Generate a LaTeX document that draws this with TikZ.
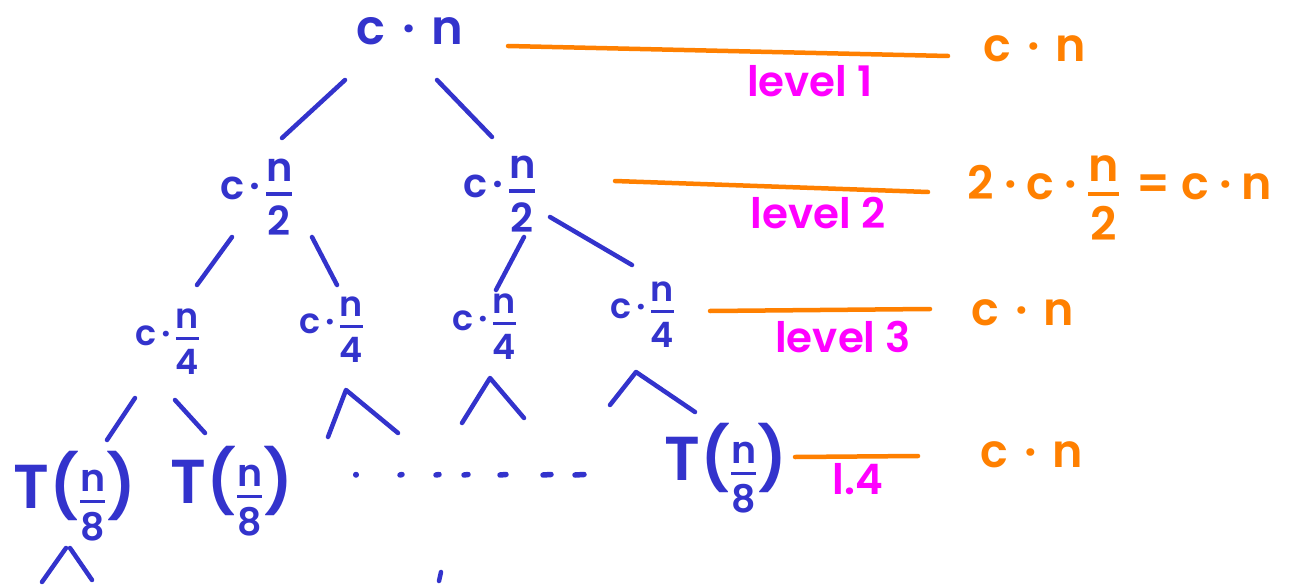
\documentclass[tikz,border=0pt]{standalone}
\usepackage{amsmath}
\usepackage{fontspec}
\setmainfont{Poppins}[BoldFont={Poppins SemiBold}]
\usetikzlibrary{calc}

\definecolor{inkblue}{RGB}{51,51,204}
\definecolor{inkorange}{RGB}{255,128,0}
\definecolor{inkpink}{RGB}{255,0,255}

% hand-style fraction with a thick bar
\newcommand\fr[3][3.5pt]{\ensuremath{\genfrac{}{}{#1}{0}{\mbox{#2}}{\mbox{#3}}}}
\newcommand\md{\hspace{0.35em}·\hspace{0.35em}}
\newcommand\mdt{\hspace{0.12em}·\hspace{0.12em}}
\newcommand\mdw{\hspace{0.22em}·\hspace{0.22em}}
% leaf label T(n/8)
\newcommand\leafT{T(\fontsize{38}{44}\selectfont\fr[3pt]{n}{8}\fontsize{62}{70}\selectfont)}

\tikzset{
  term/.style={text=inkblue, inner sep=0pt, anchor=base},
  big/.style={term, font=\bfseries\fontsize{48}{54}\selectfont},
  mid/.style={term, font=\bfseries\fontsize{40}{46}\selectfont},
  small/.style={term, font=\bfseries\fontsize{35}{40}\selectfont},
  leaf/.style={term, font=\bfseries\fontsize{62}{70}\selectfont},
  sum/.style={text=inkorange, inner sep=0pt, anchor=base, font=\bfseries\fontsize{46}{52}\selectfont},
  lvl/.style={text=inkpink, inner sep=0pt, anchor=base, font=\bfseries\fontsize{42}{48}\selectfont},
  edge/.style={draw=inkblue, line width=4.5pt, line cap=round, line join=round},
  sumline/.style={draw=inkorange, line width=4.5pt, line cap=round},
}

\begin{document}
\begin{tikzpicture}[x=1pt,y=-1pt]
\useasboundingbox (0,0) rectangle (1297,588);

% recursion tree
\node[big]   (root) at (410,45)  {c\md n};
\node[mid]   (l2a)  at (257,200) {c\mdt\fr{n}{2}};
\node[mid]   (l2b)  at (500,197) {c\mdt\fr{n}{2}};
\node[small] (l3a)  at (168,345) {c\mdt\fr[3pt]{n}{4}};
\node[small] (l3b)  at (332,333) {c\mdt\fr[3pt]{n}{4}};
\node[small] (l3c)  at (485,330) {c\mdt\fr[3pt]{n}{4}};
\node[small] (l3d)  at (643,318) {c\mdt\fr[3pt]{n}{4}};
\node[leaf]  (Ta)   at (75,508)  {\leafT};
\node[leaf]  (Tb)   at (232,503) {\leafT};
\node[leaf]  (Tc)   at (726,480) {\leafT};

% tree edges
\draw[edge] ($(root.base)+(-65,35)$) -- ($(l2a.base)+(25,-62)$);
\draw[edge] ($(root.base)+(27,35)$)  -- ($(l2b.base)+(-8,-60)$);
\draw[edge] ($(l2a.base)+(-25,37)$)  -- ($(l3a.base)+(29,-60)$);
\draw[edge] ($(l2a.base)+(55,37)$)   -- ($(l3b.base)+(5,-48)$);
\draw[edge] ($(l2b.base)+(24,40)$)   -- ($(l3c.base)+(11,-40)$);
\draw[edge] ($(l2b.base)+(50,20)$)   -- ($(l3d.base)+(-11,-53)$);
\draw[edge] ($(l3a.base)+(-33,53)$)  -- ($(Ta.base)+(32,-68)$);
\draw[edge] ($(l3a.base)+(7,55)$)    -- ($(Tb.base)+(-27,-70)$);
\draw[edge] ($(Tc.base)+(-116,-75)$) -- ($(l3d.base)+(-7,54)$) -- ($(Tc.base)+(-31,-68)$);

% open branches below level 3
\coordinate (b1) at ($(l3b.base)+(14,57)$);
\coordinate (b2) at ($(l3c.base)+(5,48)$);
\draw[edge] ($(b1)+(-18,47)$) -- (b1) -- ($(b1)+(52,43)$);
\draw[edge] ($(b2)+(-28,45)$) -- (b2) -- ($(b2)+(34,40)$);

% open branches below the first leaf
\draw[edge] ($(Ta.base)+(-33,74)$) -- ($(Ta.base)+(-9,40)$);
\draw[edge] ($(Ta.base)+(-5,40)$)  -- ($(Ta.base)+(17,72)$);

% ellipsis between the leaves
\foreach \x/\l in {356/0,400/2,436/3,464/4,500/6,543/8,575/9}
  \draw[edge, line width=5.5pt] ($(Tb.base)+(\x-232,-28)$) -- ++(\l,-0.5);
\draw[edge] ($(Ta.base)+(366,64)$) -- ++(-2,9);

% per-level cost
\node[sum] (s1) at (1035,62)  {c\md n};
\node[sum] (s2) at (1120,200) {2\mdw c\mdw\fr{n}{2}\hspace{0.35em}=\hspace{0.25em}c\mdw n};
\node[sum] (s3) at (1023,325) {c\md n};
\node[sum] (s4) at (1032,467) {c\md n};

\draw[sumline] ($(root.base)+(98,1)$)  -- ($(s1.base)+(-87,-6)$);
\draw[sumline] ($(l2b.base)+(115,-16)$) -- ($(s2.base)+(-192,-8)$);
\draw[sumline] ($(l3d.base)+(67,-7)$)  -- ($(s3.base)+(-93,-16)$);
\draw[sumline] ($(Tc.base)+(69,-23)$)  -- ($(s4.base)+(-114,-11)$);

% level tags
\node[lvl] (v1) at (810,97)  {level 1};
\node[lvl] (v2) at (818,228) {level 2};
\node[lvl] (v3) at (843,352) {level 3};
\node[lvl] (v4) at (858,494) {l.4};
\end{tikzpicture}
\end{document}
